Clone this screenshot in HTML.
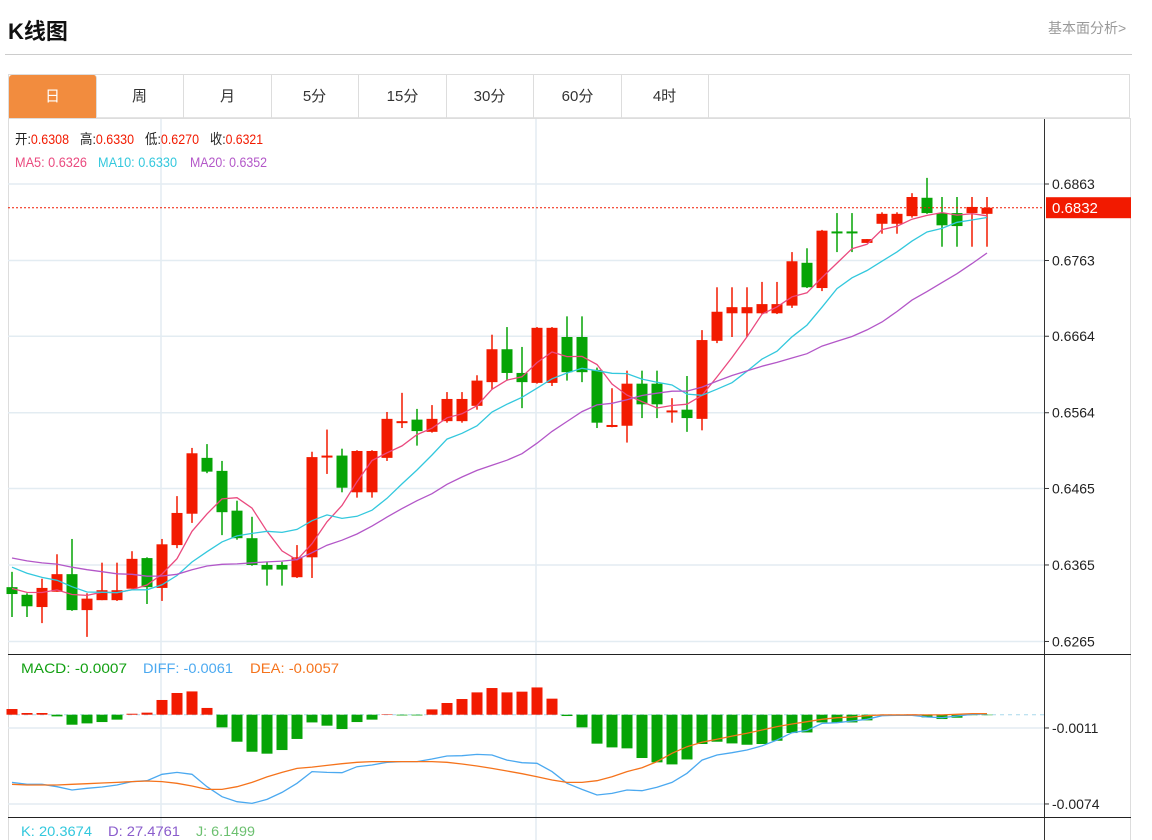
<!DOCTYPE html>
<html><head><meta charset="utf-8">
<style>
body{margin:0;background:#fff;width:1152px;height:840px;overflow:hidden;font-family:"Liberation Sans","Noto Sans CJK SC",sans-serif;}
#title{position:absolute;left:8px;top:14px;font-size:22px;font-weight:bold;color:#111;}
#more{position:absolute;left:1048px;top:18px;font-size:14px;color:#999;}
#hr{position:absolute;left:5px;top:54px;width:1127px;height:1px;background:#ccc;}
#tabs{position:absolute;left:8px;top:74px;width:1122px;height:44px;border:1px solid #ddd;border-bottom:1px solid #e4e4e4;box-sizing:border-box;}
.tab{position:absolute;top:0;height:43px;width:87px;border-right:1px solid #ddd;text-align:center;line-height:43px;font-size:15px;color:#333;}
.tab.on{background:#f28c3e;color:#fff;border-radius:3px 3px 0 0;}
svg{position:absolute;left:0;top:0;}
</style></head><body>
<div id="title">K线图</div>
<div id="more">基本面分析&gt;</div>
<div id="hr"></div>
<div id="tabs">
<div class="tab on" style="left:0">日</div>
<div class="tab" style="left:87px">周</div>
<div class="tab" style="left:175px">月</div>
<div class="tab" style="left:262px">5分</div>
<div class="tab" style="left:350px">15分</div>
<div class="tab" style="left:437px">30分</div>
<div class="tab" style="left:525px">60分</div>
<div class="tab" style="left:612px">4时</div>
</div>
<svg id="chart" width="1152" height="840"></svg>
<script>
const opens=[.6336,.6326,.6310,.6330,.6353,.6306,.6319,.6319,.6334,.6374,.6335,.6391,.6432,.6505,.6488,.6436,.6400,.6365,.6365,.6349,.6375,.6507,.6508,.6460,.6460,.6505,.6552,.6555,.6539,.6553,.6553,.6573,.6604,.6647,.6616,.6603,.6603,.6663,.6663,.6620,.6547,.6547,.6602,.6602,.6565,.6568,.6556,.6658,.6694,.6694,.6694,.6694,.6704,.6760,.6727,.6801,.6801,.6786,.6811,.6811,.6821,.6845,.6825,.6825,.6825,.6824];
const closes=[.6327,.6311,.6335,.6353,.6306,.6321,.6332,.6332,.6373,.6336,.6392,.6433,.6511,.6487,.6434,.6400,.6365,.6359,.6359,.6375,.6506,.6508,.6466,.6514,.6514,.6556,.6553,.6540,.6556,.6582,.6582,.6606,.6647,.6616,.6604,.6675,.6675,.6617,.6617,.6551,.6548,.6602,.6575,.6575,.6567,.6557,.6659,.6696,.6702,.6702,.6706,.6706,.6762,.6728,.6802,.6800,.6800,.6791,.6824,.6824,.6846,.6825,.6809,.6808,.6833,.6832];
const highs=[.6356,.6328,.6347,.6379,.6399,.6328,.6368,.6368,.6383,.6375,.6399,.6455,.6518,.6523,.6501,.6449,.6428,.6369,.6369,.6391,.6513,.6542,.6517,.6515,.6515,.6565,.6590,.6569,.6574,.6591,.6591,.6613,.6666,.6676,.6650,.6676,.6676,.6690,.6690,.6623,.6596,.6619,.6619,.6619,.6583,.6612,.6672,.6728,.6728,.6728,.6735,.6735,.6774,.6779,.6803,.6825,.6825,.6791,.6826,.6826,.6851,.6871,.6846,.6846,.6846,.6846];
const lows=[.6297,.6297,.6289,.6330,.6305,.6271,.6319,.6318,.6334,.6314,.6318,.6387,.6420,.6485,.6404,.6398,.6364,.6338,.6338,.6348,.6348,.6484,.6460,.6453,.6453,.6501,.6544,.6521,.6538,.6551,.6551,.6568,.6595,.6606,.6570,.6602,.6599,.6606,.6604,.6544,.6545,.6525,.6557,.6557,.6551,.6539,.6541,.6655,.6663,.6663,.6693,.6693,.6701,.6727,.6723,.6774,.6774,.6786,.6798,.6798,.6819,.6824,.6781,.6781,.6781,.6781];
const priorCloses=[.6386,.6386,.6386,.6386,.6386,.6386,.6386,.6386,.6386,.6386,.6390,.6390,.6390,.6390,.6390,.6336,.6336,.6336,.6336];
const priceTicks=[0.6863,0.6763,0.6664,0.6564,0.6465,0.6365,0.6265];
const lastPrice=0.6832;
const macdHist=[4.7,1.4,1.4,-1.4,-8.3,-7.2,-6.1,-4.1,0.8,1.7,12.2,18.0,19.3,5.6,-10.5,-22.4,-30.7,-32.3,-29.3,-20.1,-6.4,-9.1,-11.9,-6.1,-4.1,0.2,-0.6,-0.6,4.4,9.7,13.0,18.5,22.1,18.5,19.1,22.6,13.3,-1.1,-10.5,-24.0,-27.1,-27.9,-35.9,-39.5,-41.2,-37.1,-24.3,-22.4,-23.8,-24.9,-24.3,-21.6,-15.2,-14.7,-6.4,-6.6,-6.4,-4.7,-0.8,0,0.3,-2.2,-3.6,-2.5,-0.4,-0.3];
const diffVals=[-56.1,-57.7,-57.7,-59.7,-62.4,-61.0,-59.9,-58.3,-55.5,-54.7,-49.4,-47.8,-49.4,-59.7,-68.0,-72.1,-73.5,-70.2,-64.4,-56.9,-47.2,-47.8,-48.1,-43.1,-41.7,-39.5,-38.9,-38.9,-36.7,-34.2,-34.0,-32.9,-33.4,-37.6,-39.8,-40.3,-47.2,-56.9,-61.9,-66.6,-65.2,-62.4,-63.0,-60.2,-56.1,-48.6,-37.6,-33.4,-31.5,-29.3,-25.9,-21.0,-14.9,-13.0,-7.2,-6.6,-5.2,-3.8,-0.8,-0.5,-0.5,-1.9,-2.5,-1.1,0.3,0.6];
const deaVals=[-57.7,-58.3,-58.3,-58.3,-57.7,-57.2,-56.6,-56.1,-55.5,-55.0,-55.5,-56.9,-59.1,-61.9,-61.9,-59.7,-56.1,-51.6,-47.8,-44.5,-43.4,-42.0,-40.6,-39.5,-38.9,-38.9,-38.9,-38.9,-38.9,-39.5,-40.9,-42.5,-44.5,-46.7,-48.9,-51.4,-54.1,-56.1,-56.1,-54.7,-51.4,-47.2,-43.9,-38.9,-32.0,-26.5,-22.9,-20.4,-17.7,-15.4,-12.7,-9.9,-7.7,-5.8,-3.8,-2.5,-1.9,-0.8,-0.2,-0.2,-0.2,-0.2,-0.2,0.3,0.9,0.9];
const macdTicks=[-0.0011,-0.0074];

const NS='http://www.w3.org/2000/svg';
const svg=document.getElementById('chart');
function mk(tag,attrs,parent){const e=document.createElementNS(NS,tag);for(const k in attrs)e.setAttribute(k,attrs[k]);(parent||svg).appendChild(e);return e;}
const RED='#f21a00',GREEN='#06a406';
const X0=12,DX=15.0;
const xs=i=>X0+i*DX;
const yP=v=>184+(0.6863-v)*7650;
const yM=v=>714.7-v*12063;

let fr=mk('rect',{x:8.5,y:118.5,width:1122,height:730,fill:'none',stroke:'#ddd'});

[161,536].forEach(x=>{let g=mk('line',{x1:x,y1:119,x2:x,y2:840,stroke:'#e3ecf2','stroke-width':1.5});
});
priceTicks.forEach(v=>{const y=yP(v);
 let g=mk('line',{x1:8,y1:y,x2:1044,y2:y,stroke:'#e3ecf2','stroke-width':1.5});
 
 mk('line',{x1:1044,y1:y,x2:1049,y2:y,stroke:'#333'});
 let t=mk('text',{x:1052,y:y+5,'font-size':14,fill:'#222'});t.textContent=v.toFixed(4);
 });
macdTicks.forEach(v=>{const y=yM(v);
 let g=mk('line',{x1:8,y1:y,x2:1044,y2:y,stroke:'#e3ecf2','stroke-width':1.5});
 
 mk('line',{x1:1044,y1:y,x2:1049,y2:y,stroke:'#333'});
 let t=mk('text',{x:1052,y:y+5,'font-size':14,fill:'#222'});t.textContent=(v<0?'-':'')+Math.abs(v).toFixed(4);
 });
const all=priorCloses.concat(closes);const P=priorCloses.length;
function ma(n){return closes.map((c,i)=>{let s=0;for(let k=0;k<n;k++)s+=all[P+i-k];return s/n;});}
opens.forEach((o,i)=>{const c=closes[i];const up=c>=o;const col=up?RED:GREEN;const x=xs(i);
 const g=mk('g',{});
 
 mk('line',{x1:x,y1:yP(highs[i]),x2:x,y2:yP(lows[i]),stroke:col,'stroke-width':1.5},g);
 const t=yP(Math.max(o,c)),b=yP(Math.min(o,c));
 mk('rect',{x:x-5.5,y:t,width:11,height:Math.max(b-t,2),fill:col},g);});
[[5,'#ea4a7f','ma5-line'],[10,'#33c8dd','ma10-line'],[20,'#b357c8','ma20-line']].forEach(([n,c,name])=>{
 const m=ma(n);const p=mk('polyline',{points:m.map((v,i)=>xs(i)+','+yP(v).toFixed(1)).join(' '),fill:'none',stroke:c,'stroke-width':1.3});
 });
let lp=mk('line',{x1:8,y1:yP(lastPrice),x2:1044,y2:yP(lastPrice),stroke:RED,'stroke-dasharray':'2,2'});

let lb=mk('rect',{x:1046,y:yP(lastPrice)-10.5,width:85,height:21,fill:RED});

let lt=mk('text',{x:1052,y:yP(lastPrice)+5.5,'font-size':15,fill:'#fff'});lt.textContent=lastPrice.toFixed(4);

let zl=mk('line',{x1:8,y1:yM(0),x2:1044,y2:yM(0),stroke:'#a8d8ec','stroke-dasharray':'4,4'});

macdHist.forEach((h,i)=>{const v=h/10000;const y0=yM(0),y1=yM(v);
 const r=mk('rect',{x:xs(i)-5.5,y:Math.min(y0,y1),width:11,height:Math.max(Math.abs(y1-y0),0.5),fill:h>=0?RED:GREEN});
 });
[[diffVals,'#4ba9f0','diff-line'],[deaVals,'#f5731c','dea-line']].forEach(([arr,c,name])=>{
 const p=mk('polyline',{points:arr.map((v,i)=>xs(i)+','+yM(v/10000).toFixed(1)).join(' '),fill:'none',stroke:c,'stroke-width':1.3});
 });
let ax=mk('line',{x1:1044.5,y1:119,x2:1044.5,y2:840,stroke:'#333'});

[654.5,817.5].forEach(y=>{let s=mk('line',{x1:8,y1:y,x2:1131,y2:y,stroke:'#222'});
 });
function item(parts,x,y,name,len){const t=mk('text',{x:x,y:y,'font-size':14});
 if(len){t.setAttribute('textLength',len);t.setAttribute('lengthAdjust','spacingAndGlyphs');}
 
 parts.forEach(([s,c])=>{const sp=mk('tspan',{fill:c},t);sp.textContent=s;});}
item([['开:','#222'],['0.6308',RED]],15,144,'open-value',54);
item([['高:','#222'],['0.6330',RED]],80,144,'high-value',54);
item([['低:','#222'],['0.6270',RED]],145,144,'low-value',54);
item([['收:','#222'],['0.6321',RED]],210,144,'close-value',53);
item([['MA5: 0.6326','#ea4a7f']],15,167,'ma5-legend',72);
item([['MA10: 0.6330','#33c8dd']],98,167,'ma10-legend',79);
item([['MA20: 0.6352','#b357c8']],190,167,'ma20-legend',77);
item([['MACD: -0.0007','#12a012']],21,673,'macd-legend',106);
item([['DIFF: -0.0061','#4ba9f0']],143,673,'diff-legend',90);
item([['DEA: -0.0057','#f5731c']],250,673,'dea-legend',89);
item([['K: 20.3674','#33c8dd']],21,836,'k-legend',71);
item([['D: 27.4761','#8a5ccc']],108,836,'d-legend',72);
item([['J: 6.1499','#6cc070']],196,836,'j-legend',59);
</script>
</body></html>
